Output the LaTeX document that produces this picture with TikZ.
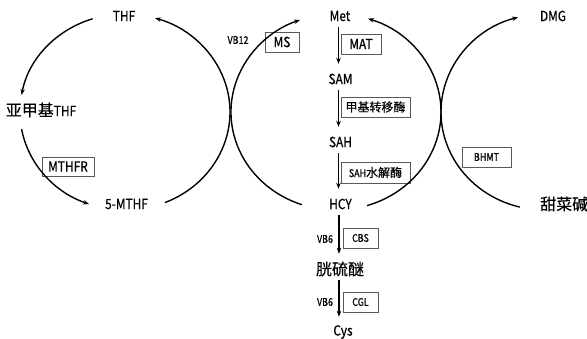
\documentclass[tikz,border=0pt]{standalone}
\usepackage{fontspec}
\setmainfont{Noto Sans CJK SC}[FakeStretch=0.85, FakeBold=0.6]
\newfontfamily\cjkfont{Noto Sans CJK SC}[FakeBold=0.4]
\newcommand{\zhbig}[1]{{\cjkfont\fontsize{16}{18}\selectfont #1}}
\newcommand{\zhsmall}[1]{{\cjkfont\fontsize{12}{14}\selectfont #1}}
\usetikzlibrary{arrows.meta}
\begin{document}
\begin{tikzpicture}[x=1pt,y=1pt,
  arr/.style={-{Stealth[length=6pt,width=4.5pt]}, line width=1.4pt},
  lbl/.style={font=\fontsize{14}{16}\selectfont, inner sep=0pt, minimum height=22pt},
  sm/.style={font=\fontsize{10.5}{12}\selectfont, inner sep=0pt},
  enz/.style={draw=black!65, line width=0.8pt, fill=white, inner sep=0pt, font=\fontsize{14}{16}\selectfont},
  enzs/.style={enz, font=\fontsize{10.5}{12}\selectfont},
  vline/.style={arr, line width=1.7pt, shorten >=4pt}]
\useasboundingbox (0,0) rectangle (587,338);

% metabolite labels
\node[lbl] (thf)  at (124,322) {THF};
\node[lbl] (met)  at (340,322) {Met};
\node[lbl] (dmg)  at (553,322) {DMG};
\node[lbl] (mthf) at (41,228) {\zhbig{亚甲基}THF};
\node[lbl] (fmthf) at (126.5,134) {5-MTHF};
\node[lbl] (hcy)  at (340.5,134) {HCY};
\node[lbl, anchor=west] (bet) at (540,134) {\zhbig{甜菜碱}};
\node[lbl] (sam)  at (340.5,259) {SAM};
\node[lbl] (sah)  at (340.5,196) {SAH};
\node[lbl] (cth)  at (340,69) {\zhbig{胱硫醚}};
\node[lbl] (cys)  at (343,6) {Cys};

% enzyme boxes
\node[enz, minimum width=34pt, minimum height=20pt] (ms) at (282,296) {MS};
\node[enz, minimum width=52pt, minimum height=19pt] (mthfr) at (68,171.5) {MTHFR};
\node[enz, minimum width=40pt, minimum height=20pt] (mat) at (361,294) {MAT};
\node[enz, minimum width=69pt, minimum height=20pt] (mt) at (375.5,231) {\zhsmall{甲基转移酶}};
\node[enzs, minimum width=69pt, minimum height=21pt] (sahh) at (375.5,165.5) {SAH\zhsmall{水解酶}};
\node[enzs, minimum width=49pt, minimum height=20pt] (bhmt) at (486.5,181) {BHMT};
\node[enzs, minimum width=35pt, minimum height=20pt] (cbs) at (360.5,100) {CBS};
\node[enzs, minimum width=35pt, minimum height=20pt] (cgl) at (360.5,36) {CGL};

% cofactors
\node[sm] (vb12) at (238,298) {VB12};
\node[sm] (vb6a) at (325,99) {VB6};
\node[sm] (vb6b) at (325,36) {VB6};

% ellipse centres and arc start points
\coordinate (cL) at (125,226);
\coordinate (cR) at (336,226);
\coordinate (cT) at (545,226);
\path (cL) ++(108:105 and 98) coordinate (a1);
\path (cL) ++(190:105 and 98) coordinate (a2);
\path (cL) ++(-67.6:105 and 98) coordinate (a3);
\path (cR) ++(251:105 and 98) coordinate (a4);
\path (cR) ++(-72.8:105 and 98) coordinate (a5);
\path (cT) ++(256:104 and 98) coordinate (a6);

% folate cycle
\draw[arr] (a1) arc[start angle=108, end angle=170, x radius=105, y radius=98];
\draw[arr] (a2) arc[start angle=190, end angle=250, x radius=105, y radius=98];
\draw[arr] (a3) arc[start angle=-67.6, end angle=73.4, x radius=105, y radius=98];
% methionine cycle
\draw[arr] (a4) arc[start angle=251, end angle=110, x radius=105, y radius=98];
\draw[arr] (a5) arc[start angle=-72.8, end angle=72.3, x radius=105, y radius=98];
% betaine
\draw[arr] (a6) arc[start angle=256, end angle=105, x radius=104, y radius=98];

% vertical chain
\draw[vline] ([xshift=-1.5pt]met.south) -- ([xshift=-1.5pt]met.south |- sam.north);
\draw[vline] ([xshift=-2pt]sam.south) -- ([xshift=-2pt]sam.south |- sah.north);
\draw[vline] ([xshift=-2pt]sah.south) -- ([xshift=-2pt]sah.south |- hcy.north);
\draw[vline] ([xshift=-1.5pt]hcy.south) -- ([xshift=-1.5pt]hcy.south |- cth.north);
\draw[vline] ([xshift=-1pt]cth.south) -- ([xshift=-1pt]cth.south |- cys.north);
\end{tikzpicture}
\end{document}
